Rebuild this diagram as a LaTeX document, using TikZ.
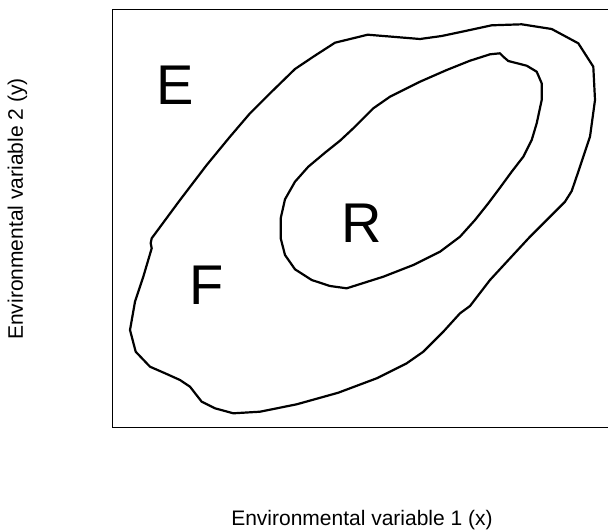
\documentclass[tikz,border=0pt]{standalone}
\usepackage{fontspec}
\setmainfont{Liberation Sans}
\begin{document}
\begin{tikzpicture}[x=1pt,y=-1pt]
	\useasboundingbox (0,0) rectangle (608,531);
	\clip (0,0) rectangle (608,531);
	\draw[line width=0.8pt](112.3,9) rectangle (620,427.7);
	% outer region (F)
	\draw[line width=2.2pt,line join=round] (151.7,238.3)--(180,200)--(206.7,165)--(230,136.7)--(250,113.3)--(271.7,91.7)--(295,69)--(313.3,56.7)--(335,42.7)--(367.7,34.7)--(420,39)--(441.7,36)--(466.7,30.7)--(491.7,25.3)--(521.7,24.3)--(551.7,29)--(578.3,43.3)--(593.3,66.7)--(595,100)--(590,136.7)--(580,166.7)--(571.7,191)--(565,201.7)--(546.7,220)--(530,236.7)--(510,258.3)--(490,280)--(473.3,301.7)--(470,306)--(460,313.3)--(443.3,331.7)--(423.3,351.7)--(406.7,363.3)--(376.7,378.3)--(338.3,392.7)--(296.7,404.3)--(260,411.7)--(233.3,413.3)--(215,408.3)--(201.7,401.7)--(190,386.7)--(180,380)--(166.7,374)--(150,366.7)--(135.7,351.7)--(130,330)--(135,301.7)--(143.3,276.7)--(151.7,248.3)--(150.7,243.3)--cycle;
	% inner region (R)
	\draw[line width=2.2pt,line join=round] (346.7,288.3)--(330,286)--(311.7,280)--(295,269.3)--(285,255)--(280.7,238.3)--(280.7,218.3)--(285,199.3)--(295,181.7)--(308.3,166.7)--(325,152.7)--(340,140.7)--(353.3,128.3)--(373.3,108.3)--(390,96.7)--(420,81.7)--(446.7,70)--(470,60.7)--(490,54.3)--(500,53.3)--(503.3,56.7)--(508.3,61)--(526.7,65.7)--(536.7,71.7)--(541.7,83.3)--(541.7,100)--(536.7,123.3)--(531.7,140)--(523.3,156.7)--(511.7,171.7)--(498.3,190)--(488.3,203.3)--(475,220)--(460,236.7)--(440,251.7)--(413.3,265)--(383.3,276.7)--cycle;
	\node[inner sep=0pt,font=\fontsize{56}{60}\selectfont](labE) at (175,85){E};
	\node[inner sep=0pt,font=\fontsize{56}{60}\selectfont](labF) at (206.7,285){F};
	\node[inner sep=0pt,font=\fontsize{56}{60}\selectfont](labR) at (361.7,223.3){R};
	\node[inner sep=0pt,anchor=base,font=\fontsize{21}{24}\selectfont](xlab) at (362,525.5){Environmental variable 1 (x)};
	\node[inner sep=0pt,anchor=base,rotate=90,font=\fontsize{21}{24}\selectfont](ylab) at (23,209){Environmental variable 2 (y)};
\end{tikzpicture}
\end{document}
